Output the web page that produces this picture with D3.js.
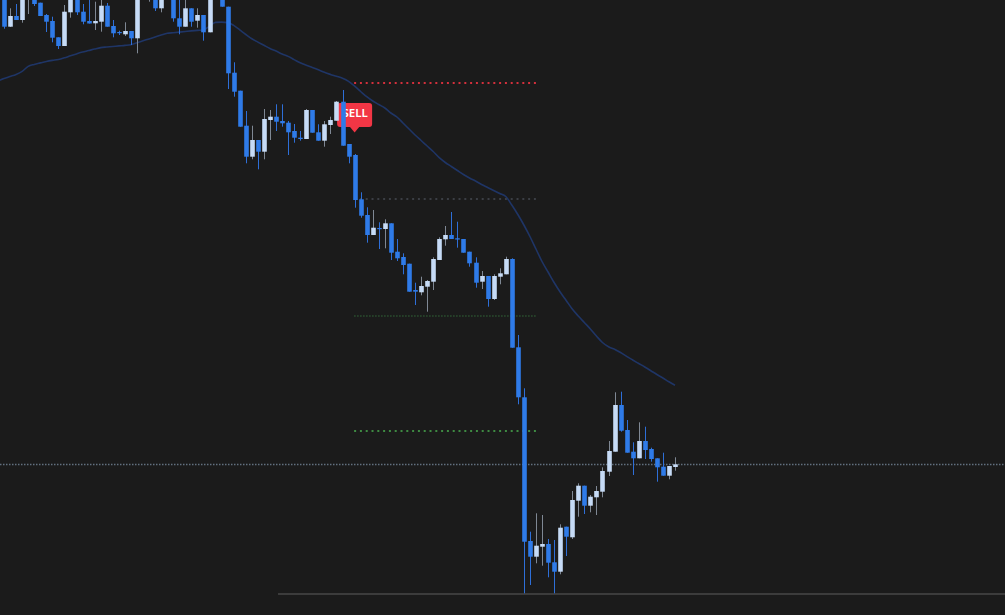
<!DOCTYPE html>
<html>
<head>
<meta charset="utf-8">
<script src="https://cdn.jsdelivr.net/npm/d3@7"></script>
<style>
  html, body { margin: 0; padding: 0; background: #1b1b1b; overflow: hidden; }
  svg { display: block; }
</style>
</head>
<body>
<div id="chart"></div>
<script>
// ---- DATA ----
const opens  = [200.50,197.33,198.40,198.00,200.30,200.80,199.73,198.50,197.90,196.27,195.40,198.77,200.20,198.83,197.90,197.67,197.83,199.43,197.40,196.80,196.57,196.90,196.17,200.60,200.30,200.40,199.17,201.00,200.30,198.17,197.33,199.17,197.93,198.50,196.77,200.20,201.00,199.33,192.73,190.93,187.43,184.33,186.00,184.83,188.00,188.33,187.90,187.73,186.90,186.23,186.10,189.00,186.77,185.93,187.50,187.93,189.83,185.60,184.50,180.07,178.50,176.50,177.20,177.10,177.67,174.83,174.30,173.63,171.00,170.77,171.33,171.83,174.00,176.07,176.50,176.17,176.10,174.83,173.73,171.83,172.40,170.10,172.33,172.57,174.10,165.27,160.27,145.90,144.33,145.33,145.60,143.77,142.83,147.33,146.27,149.93,151.43,149.43,150.27,150.83,152.83,154.83,159.50,157.00,154.83,154.17,155.90,155.10,154.17,153.33,152.43,153.30];
const highs  = [200.80,199.17,199.60,200.60,201.50,201.00,199.73,198.60,198.33,196.27,199.50,200.40,200.50,199.60,200.00,199.83,200.00,199.70,198.00,196.93,197.77,196.90,200.60,201.00,201.40,200.60,200.60,201.20,200.50,200.10,200.10,199.17,199.17,198.50,200.40,201.40,201.20,199.33,193.77,190.93,188.90,187.43,186.00,189.10,189.00,189.57,189.57,187.90,187.60,186.90,189.10,189.00,187.57,187.90,188.33,189.90,191.00,185.60,184.60,180.77,179.27,179.00,177.77,178.07,177.67,176.10,174.67,173.63,171.73,172.33,172.00,174.27,176.27,177.40,178.80,177.83,176.10,174.83,174.27,172.90,172.40,172.57,173.17,174.33,174.17,166.50,161.17,146.83,148.67,148.50,146.10,146.00,147.57,147.33,150.90,151.67,151.43,150.50,151.40,153.27,155.90,160.77,160.83,158.00,155.77,157.77,157.33,155.23,154.17,154.73,153.40,154.27];
const lows   = [197.13,197.30,198.00,197.73,198.60,199.40,198.40,196.80,195.77,195.10,195.40,198.23,198.50,197.57,197.65,197.00,196.83,197.33,196.27,196.50,196.40,195.50,194.67,200.10,199.83,198.90,198.77,200.10,197.83,196.57,197.33,197.33,197.23,195.93,196.77,200.10,199.33,191.10,190.33,187.33,183.67,184.07,183.07,184.07,186.00,186.90,187.33,184.50,185.73,185.93,186.10,186.73,185.93,185.33,186.60,187.93,185.43,183.67,179.23,178.23,175.73,176.50,175.10,175.17,174.00,173.90,172.57,170.83,169.50,170.47,168.83,171.00,174.00,175.43,176.10,175.23,174.73,173.33,171.23,171.10,169.33,170.00,171.57,172.57,165.23,159.57,140.67,141.50,143.67,143.43,142.27,140.67,142.57,144.40,146.10,148.33,148.60,148.77,148.50,150.27,152.40,154.83,156.83,154.73,152.50,154.17,154.10,153.83,151.83,152.43,152.07,152.93];
const closes = [197.33,198.40,198.00,200.20,201.20,199.60,198.40,197.83,196.23,195.40,198.83,200.10,198.77,197.83,197.65,197.90,199.43,197.33,196.67,196.75,196.90,196.17,200.30,200.20,201.00,199.17,200.30,200.30,198.17,197.33,199.17,197.83,198.50,196.77,200.20,201.20,199.33,192.67,190.83,187.33,184.33,186.00,184.83,188.10,188.33,187.83,187.67,186.77,186.23,186.10,189.00,186.73,185.93,187.57,188.00,189.83,185.43,184.33,180.00,178.43,176.50,177.23,177.12,177.67,174.73,174.17,173.50,170.83,170.83,171.40,171.90,174.10,176.10,176.50,176.10,176.07,174.73,173.67,171.73,172.40,170.10,172.40,172.67,174.10,165.23,160.27,145.83,144.33,145.43,145.60,143.73,142.83,147.23,146.33,150.00,151.43,149.43,150.33,150.90,152.90,154.90,159.50,156.93,154.73,154.17,155.90,155.00,154.10,153.27,152.43,153.40,153.57];

// moving average, first value belongs to the bar before the first drawn candle
const maStart = -1;
const maValues = [191.90,192.14,192.35,192.56,192.87,193.36,193.56,193.71,193.85,193.96,194.05,194.22,194.42,194.61,194.79,194.94,195.10,195.24,195.30,195.35,195.41,195.46,195.53,195.73,195.92,196.11,196.30,196.49,196.67,196.73,196.79,196.85,196.91,196.96,197.00,197.39,197.76,197.79,197.74,197.46,197.01,196.55,196.12,195.79,195.47,195.15,194.89,194.61,194.36,194.04,193.72,193.47,193.25,193.02,192.77,192.56,192.37,192.17,191.86,191.38,190.85,190.33,189.90,189.55,189.20,188.70,188.30,187.70,187.10,186.50,185.95,185.40,184.85,184.23,183.75,183.35,182.95,182.55,182.20,181.90,181.55,181.25,180.95,180.65,180.35,179.50,178.55,177.50,176.35,175.10,173.85,172.80,171.75,170.80,169.95,169.10,168.40,167.75,167.10,166.40,165.75,165.32,165.08,164.75,164.36,164.00,163.65,163.30,162.93,162.55,162.20,161.82,161.48];

// trade levels after the SELL signal
const levelNames  = ["stop", "entry", "target1", "target2"];
const levelPrices = [191.70, 180.10, 168.40, 156.90];
const levelFrom = 58, levelTo = 88;

const signalIndex = 58;
const signalPrice = 186.75;
const signalLabel = "SELL";

const lowLinePrice = 140.60;
const lowLineFrom = 45;

// ---- CHART ----
const W = 1005, H = 615;
const n = closes.length;
const svg = d3.select("#chart").append("svg").attr("width", W).attr("height", H);
svg.append("rect").attr("width", W).attr("height", H).attr("fill", "#1b1b1b");

const x = d3.scaleLinear().domain([0, n - 1]).range([4, 675]);
const y = d3.scaleLinear().domain([138.5, 200]).range([615, 0]);

// low line
svg.append("line")
  .attr("x1", x(lowLineFrom) + 2).attr("x2", W)
  .attr("y1", y(lowLinePrice)).attr("y2", y(lowLinePrice))
  .attr("stroke", "#484848").attr("stroke-width", 1.3);

// last price line
const lastPrice = closes[n - 1];
svg.append("line")
  .attr("x1", 0).attr("x2", W)
  .attr("y1", Math.round(y(lastPrice)) + 0.5).attr("y2", Math.round(y(lastPrice)) + 0.5)
  .attr("stroke", "#62707f").attr("stroke-width", 1.3).attr("stroke-dasharray", "1.5,1.5");

// moving average
const maData = maValues.map((v, k) => ({ i: maStart + k, v }));
svg.append("path").datum(maData)
  .attr("fill", "none").attr("stroke", "#1f3566").attr("stroke-width", 1.6)
  .attr("d", d3.line().x(d => x(d.i)).y(d => y(d.v)).curve(d3.curveMonotoneX));

// levels
const levelStyles = {
  stop:    { color: "#d3303c", dash: "2,3.8", w: 2 },
  entry:   { color: "#3b3e44", dash: "2,3.8", w: 2 },
  target1: { color: "#2c5230", dash: "1.5,1.5", w: 1.5 },
  target2: { color: "#3e8a42", dash: "2,3.8", w: 2 }
};
levelNames.forEach((nm, k) => {
  const s = levelStyles[nm];
  const yy = Math.round(y(levelPrices[k]));
  svg.append("line")
    .attr("x1", x(levelFrom) - 0.5).attr("x2", x(levelTo))
    .attr("y1", yy).attr("y2", yy)
    .attr("stroke", s.color).attr("stroke-width", s.w).attr("stroke-dasharray", s.dash);
});

// SELL marker
const sx = x(signalIndex), sy = y(signalPrice);
const g = svg.append("g");
g.append("rect").attr("x", sx - 17.5).attr("y", sy - 29.5).attr("width", 35).attr("height", 24)
  .attr("rx", 3).attr("fill", "#f23645");
g.append("path").attr("d", `M${sx - 5},${sy - 6} L${sx + 5},${sy - 6} L${sx},${sy} Z`).attr("fill", "#f23645");
g.append("text").attr("x", sx + 0.5).attr("y", sy - 15.8)
  .attr("text-anchor", "middle").attr("fill", "#ffffff")
  .attr("font-family", "'Noto Sans', 'DejaVu Sans', sans-serif").attr("font-size", 11.5)
  .attr("font-weight", 600)
  .text(signalLabel);

// candles
const bw = 4.6;
const candles = d3.range(n).map(i => ({ i, o: opens[i], h: highs[i], l: lows[i], c: closes[i] }));
const cg = svg.append("g");
const cs = cg.selectAll("g.c").data(candles).join("g").attr("class", "c");
cs.append("line")
  .attr("x1", d => Math.round(x(d.i)) + 0.5).attr("x2", d => Math.round(x(d.i)) + 0.5)
  .attr("y1", d => y(d.h)).attr("y2", d => y(d.l))
  .attr("stroke", d => d.c >= d.o ? "#7f8894" : "#2e6fd8").attr("stroke-width", 1);
cs.append("rect")
  .attr("x", d => Math.round(x(d.i)) + 0.5 - bw / 2)
  .attr("width", bw)
  .attr("y", d => y(Math.max(d.o, d.c)))
  .attr("height", d => Math.max(1.2, Math.abs(y(d.o) - y(d.c))))
  .attr("fill", d => d.c >= d.o ? "#c6dbf6" : "#2f7be8");
</script>
</body>
</html>
